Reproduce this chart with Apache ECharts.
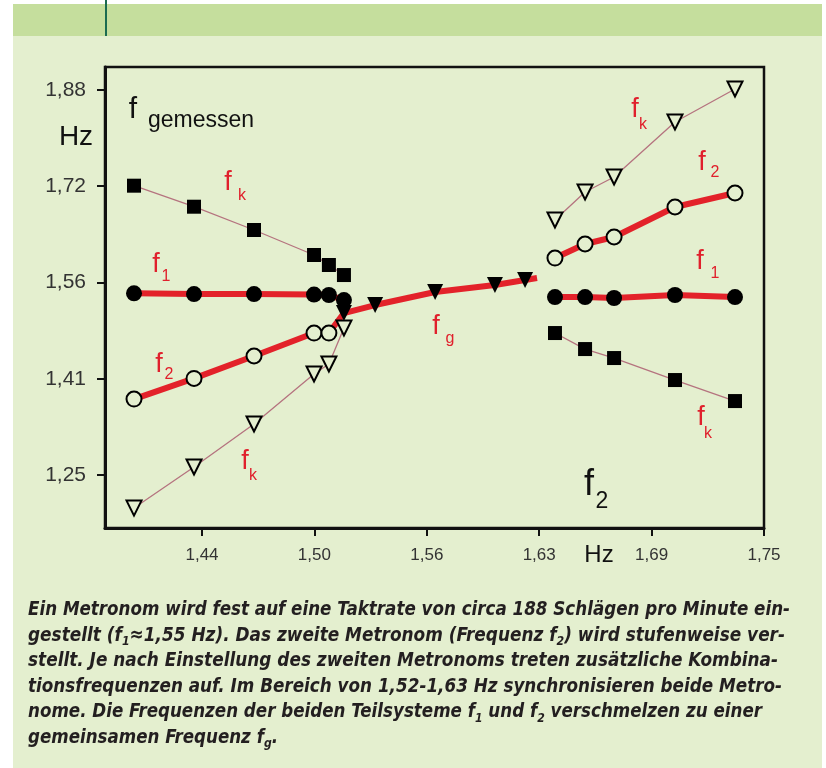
<!DOCTYPE html>
<html><head><meta charset="utf-8">
<script src="https://cdn.jsdelivr.net/npm/echarts@6/dist/echarts.min.js"></script>
<style>html,body{margin:0;padding:0;background:#fff;} #c{width:826px;height:768px;}</style>
</head><body><div id="c"></div>
<script>
// ---- axis ticks ----
const xTickValues = [1.44, 1.502, 1.564, 1.626, 1.688, 1.75];
const xTickLabels = ['1,44', '1,50', '1,56', '1,63', '1,69', '1,75'];
const yTickValues = [1.25, 1.4075, 1.565, 1.7225, 1.88];
const yTickLabels = ['1,25', '1,41', '1,56', '1,72', '1,88'];

// ---- data (Hz) ----
const xLeft = [1.4025, 1.4356, 1.4687, 1.5018, 1.5100, 1.5183];
const f1Left = [1.5473, 1.5461, 1.5461, 1.5452, 1.5445, 1.5363];
const fkLeftSquares = [1.7234, 1.6890, 1.6509, 1.6100, 1.5936, 1.5772];
const fkLeftTriangles = [1.1959, 1.2630, 1.3334, 1.4152, 1.4316, 1.4905];
const f2Left = [1.3743, 1.4081, 1.4447, 1.4823, 1.4823];
const xSync = [1.5183, 1.5355, 1.5686, 1.6016, 1.6182];
const fgSync = [1.5150, 1.5281, 1.5494, 1.5609, 1.5690];
const fgEnd = [1.6248, 1.5723];
const xRight = [1.6347, 1.6513, 1.6673, 1.7009, 1.7340];
const fkRightTriangles = [1.6672, 1.7131, 1.7376, 1.8276, 1.8816];
const f2Right = [1.6050, 1.6280, 1.6394, 1.6885, 1.7114];
const f1Right = [1.5412, 1.5412, 1.5396, 1.5445, 1.5412];
const fkRightSquares = [1.4823, 1.4561, 1.4414, 1.4054, 1.3710];

// ---- caption ----
const captionLines = [
  [['Ein Metronom wird fest auf eine Taktrate von circa 188 Schlägen pro Minute ein-']],
  [['gestellt (f'], ['1', 's'], ['≈1,55 Hz). Das zweite Metronom (Frequenz f'], ['2', 's'], [') wird stufenweise ver-']],
  [['stellt. Je nach Einstellung des zweiten Metronoms treten zusätzliche Kombina-']],
  [['tionsfrequenzen auf. Im Bereich von 1,52-1,63 Hz synchronisieren beide Metro-']],
  [['nome. Die Frequenzen der beiden Teilsysteme f'], ['1', 's'], [' und f'], ['2', 's'], [' verschmelzen zu einer']],
  [['gemeinsamen Frequenz f'], ['g', 's'], ['.']]
];

const BG = '#E4EFCF';
const BAND = '#C5DE9D';
const RED = '#E3222A';
const LABELRED = '#E0202C';
const THIN = '#B5737F';
const FONT = "'Liberation Sans', Arial, sans-serif";
const CAPFONT = "'Liberation Sans Narrow', 'DejaVu Sans Condensed', 'DejaVu Sans', sans-serif";
const CAPSIZE = 20, CAPSUB = 13;

function zip(xs, ys) { return xs.map((x, i) => [x, ys[i]]); }
function tickLabel(vals, labels) {
  return function (v) {
    for (let i = 0; i < vals.length; i++) if (Math.abs(vals[i] - v) < 1e-6) return labels[i];
    return '';
  };
}

const openStyle = { color: BG, borderColor: '#000', borderWidth: 2 };
const filledStyle = { color: '#000', borderWidth: 0 };
const thinLine = { color: THIN, width: 1.3 };
const redLine = { color: RED, width: 6 };

function lineSeries(name, data, symbol, size, item, ls, rotate) {
  return {
    name: name, type: 'line', data: data, symbol: symbol, symbolSize: size,
    symbolRotate: rotate || 0, showSymbol: true, showAllSymbol: true,
    itemStyle: item, lineStyle: ls, clip: false, silent: true,
    emphasis: { disabled: true }
  };
}

// ---- text elements ----
const graphics = [];
graphics.push({ type: 'rect', z: -10, shape: { x: 13, y: 4, width: 809, height: 32 }, style: { fill: BAND } });
graphics.push({ type: 'rect', z: -10, shape: { x: 13, y: 36, width: 809, height: 732 }, style: { fill: BG } });
graphics.push({ type: 'line', z: -9, shape: { x1: 106, y1: 0, x2: 106, y2: 36 }, style: { stroke: '#1B6B50', lineWidth: 2 } });

function txt(text, x, y, size, color, align) {
  return {
    type: 'text', x: x, y: y, z: 10,
    style: {
      text: text, fill: color, font: size + 'px ' + FONT,
      textAlign: align || 'center', align: align || 'center',
      textVerticalAlign: 'middle', verticalAlign: 'middle'
    }
  };
}
function sublabel(main, sub, fx, fy, sx, sy, fsize, ssize, color) {
  graphics.push(txt(main, fx, fy, fsize, color));
  graphics.push(txt(sub, sx, sy, ssize, color));
}
// red curve labels
sublabel('f', 'k', 228, 183, 242, 196, 27, 16, LABELRED);
sublabel('f', '1', 156, 265, 166, 277, 27, 16, LABELRED);
sublabel('f', '2', 159, 365, 169, 375, 27, 16, LABELRED);
sublabel('f', 'k', 245, 462, 253, 476, 27, 16, LABELRED);
sublabel('f', 'g', 436, 327, 450, 339, 27, 16, LABELRED);
sublabel('f', 'k', 635, 110, 643, 125, 27, 16, LABELRED);
sublabel('f', '2', 702, 163, 715, 173, 27, 16, LABELRED);
sublabel('f', '1', 700, 262, 715, 274, 27, 16, LABELRED);
sublabel('f', 'k', 701, 418, 708, 434, 27, 16, LABELRED);
// black labels
graphics.push(txt('f', 133, 110, 30, '#111'));
graphics.push(txt('gemessen', 148, 121, 23, '#111', 'left'));
graphics.push(txt('Hz', 76, 137, 28, '#111'));
sublabel('f', '2', 589, 485, 602, 502, 36, 23, '#111');
graphics.push(txt('Hz', 599, 555, 24, '#111'));

// caption with per-line horizontal fit
const capTargets = [790, 785, 778, 782, 762, 278];
const capCenters = [610, 635.5, 661, 686.5, 712, 737.5];
const mctx = document.createElement('canvas').getContext('2d');
captionLines.forEach(function (segs, i) {
  let w = 0, rich = '';
  segs.forEach(function (s) {
    const isSub = s[1] === 's';
    mctx.font = 'italic bold ' + (isSub ? CAPSUB : CAPSIZE) + 'px ' + CAPFONT;
    w += mctx.measureText(s[0]).width;
    rich += '{' + (isSub ? 's' : 'm') + '|' + s[0] + '}';
  });
  const sx = (capTargets[i] - 28) / w;
  graphics.push({
    type: 'text', x: 28, y: capCenters[i], z: 10, scaleX: sx, scaleY: 1,
    style: {
      text: rich, textAlign: 'left', align: 'left', textVerticalAlign: 'middle', verticalAlign: 'middle',
      rich: {
        m: { fontFamily: CAPFONT, fontSize: CAPSIZE, fontWeight: 'bold', fontStyle: 'italic', fill: '#231F20', color: '#231F20', lineHeight: 26 },
        s: { fontFamily: CAPFONT, fontSize: CAPSUB, fontWeight: 'bold', fontStyle: 'italic', fill: '#231F20', color: '#231F20', lineHeight: 14, verticalAlign: 'bottom' }
      }
    }
  });
});

const option = {
  animation: false,
  backgroundColor: '#fff',
  grid: { left: 105, top: 67, right: 62, bottom: 240, show: true, borderColor: '#111', borderWidth: 2.5, backgroundColor: 'transparent', containLabel: false },
  xAxis: {
    type: 'value', min: 1.3865, max: 1.75,
    axisLine: { show: true, onZero: false, lineStyle: { color: '#111', width: 3 } },
    axisTick: { show: true, length: 8, customValues: xTickValues, lineStyle: { color: '#111', width: 2 } },
    axisLabel: { show: true, customValues: xTickValues, margin: 19, fontSize: 17, fontFamily: FONT, color: '#333', formatter: tickLabel(xTickValues, xTickLabels) },
    splitLine: { show: false }
  },
  yAxis: {
    type: 'value', min: 1.1633, max: 1.9176,
    axisLine: { show: true, onZero: false, lineStyle: { color: '#111', width: 3 } },
    axisTick: { show: true, length: 8, customValues: yTickValues, lineStyle: { color: '#111', width: 2 } },
    axisLabel: { show: true, customValues: yTickValues, margin: 19, fontSize: 21, fontFamily: FONT, color: '#333', formatter: tickLabel(yTickValues, yTickLabels) },
    splitLine: { show: false }
  },
  graphic: { elements: graphics },
  series: [
    lineSeries('f_k (links, oben)', zip(xLeft, fkLeftSquares), 'rect', 14, filledStyle, thinLine),
    lineSeries('f_k (links, unten)', zip(xLeft, fkLeftTriangles), 'triangle', 15, openStyle, thinLine, 180),
    lineSeries('f_k (rechts, oben)', zip(xRight, fkRightTriangles), 'triangle', 15, openStyle, thinLine, 180),
    lineSeries('f_k (rechts, unten)', zip(xRight, fkRightSquares), 'rect', 14, filledStyle, thinLine),
    lineSeries('f_2 (links)', zip(xLeft.slice(0, 5), f2Left).concat([{ value: [xSync[0], fgSync[0]], symbol: 'none' }]), 'circle', 15, openStyle, redLine),
    lineSeries('f_1 (links)', zip(xLeft, f1Left), 'circle', 16, filledStyle, redLine),
    lineSeries('f_g', zip(xSync, fgSync).concat([{ value: fgEnd, symbol: 'none' }]), 'triangle', 16, filledStyle, redLine, 180),
    lineSeries('f_1 (rechts)', zip(xRight, f1Right), 'circle', 16, filledStyle, redLine),
    lineSeries('f_2 (rechts)', zip(xRight, f2Right), 'circle', 15, openStyle, redLine)
  ]
};
const chart = echarts.init(document.getElementById('c'), null, { renderer: 'canvas', width: 826, height: 768 });
chart.setOption(option);
</script>
</body></html>
